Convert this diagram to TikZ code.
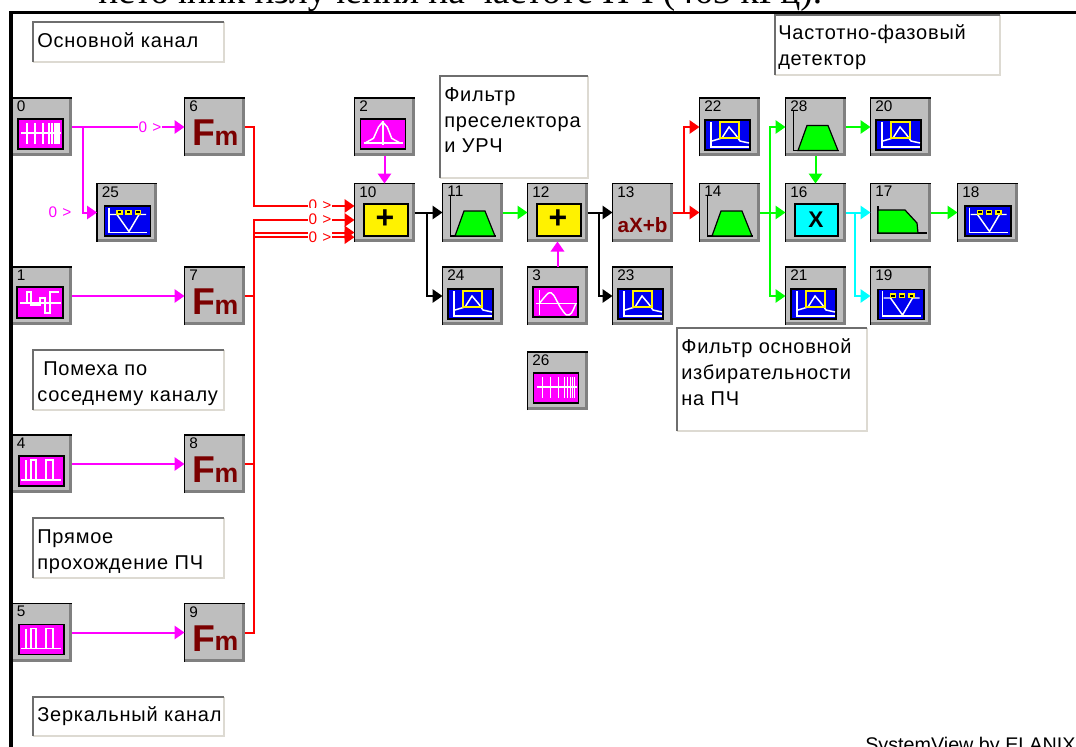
\documentclass[tikz,border=0pt]{standalone}
\usepackage{fontspec}
\setmainfont{Liberation Sans}
\newfontfamily\titlefont{Liberation Serif}
\newfontfamily\notefont[LetterSpace=4]{Liberation Sans}
\usetikzlibrary{arrows.meta}

\definecolor{blokgray}{HTML}{BEBEBE}
\definecolor{fmred}{HTML}{7B0000}
\definecolor{notedark}{HTML}{6E6E6E}
\definecolor{notelight}{HTML}{DDDAD2}
\definecolor{sigblue}{HTML}{0000F0}
\definecolor{sigmag}{HTML}{FF00FF}
\definecolor{sigcyan}{HTML}{00FFFF}
\definecolor{sigred}{HTML}{FF0000}
\definecolor{siggreen}{HTML}{00FF00}

\tikzset{
  blok/.style={rectangle, fill=blokgray, minimum width=45pt, minimum height=43.5pt, inner sep=0pt, outer sep=0pt},
  num/.style={font=\fontsize{11.5}{11.5}\selectfont, inner sep=0pt, anchor=north west},
  note/.style={font=\notefont\fontsize{15}{15}\selectfont, inner sep=0pt, anchor=base west},
  tag/.style={font=\fontsize{11.5}{11.5}\selectfont, inner sep=0.6pt, fill=white, text height=12pt, text depth=1pt},
  wire/.style={line width=1.5pt, -{Triangle[length=7.5pt,width=10pt]}},
  trace/.style={white, line width=1.1pt},
  frameicon/.style={draw=black, line width=1.2pt},
}

% block body with its number
\newcommand{\blok}[3]{
  \node[blok] (b#1) at (#2,#3) {};
  \draw[line width=2pt, gray] ([yshift=1pt]b#1.south west) -| ([xshift=-1pt]b#1.north east);
  \draw[line width=0.9pt, black] (b#1.south west) |- (b#1.north east);
  \node[num] (n#1) at ([xshift=3.5pt,yshift=-2pt]b#1.north west) {#1};
}
% note with sunken border
\newcommand{\notebox}[4]{
  \fill[white] (#1,#2) rectangle (#3,#4);
  \draw[line width=1pt, notelight] (#1,#4) -- (#3,#4) -- (#3,#2);
  \draw[line width=2pt, notedark] (#1,#4) -- (#1,#2) -- (#3,#2);
}
\newcommand{\iconpulses}{
  \draw[frameicon, fill=sigmag] (-24,-8) rectangle (21,22);
  \draw[trace] (-21,6) -- (19,6);
  \foreach \t in {-15,-7,1,7,10,13,15,17} \draw[trace] (\t,-4) -- (\t,17);
}
\newcommand{\iconsquare}{
  \draw[frameicon, fill=sigmag] (-25,-9) rectangle (21,22);
  \draw[trace] (-22,7) -- (-15,7) -- (-15,-4) -- (-11,-4) -- (-11,9) -- (-2,9) -- (-2,2) -- (3,2) -- (3,17) -- (8,17) -- (8,-4) -- (17,-4);
  \draw[trace] (-22,7) -- (19,7);
}
\newcommand{\iconrect}{
  \draw[frameicon, fill=sigmag] (-23,-8) rectangle (22,22);
  \draw[trace] (-21,16) -- (19,16);
  \draw[trace] (-16,-4) -- (-16,16);
  \draw[trace] (-11,16) -- (-11,-4) -- (-6,-4) -- (-6,16);
  \draw[trace] (4,16) -- (4,-4) -- (11,-4) -- (11,16);
}
\newcommand{\icongauss}{
  \draw[frameicon, fill=sigmag] (-24,-8) rectangle (21,22);
  \draw[trace] (-21,16) -- (18,16);
  \draw[trace] (-1.5,-6) -- (-1.5,18);
  \draw[trace] (-19.5,16) -- (-11,11.3) -- (-6,0) -- (-1.8,-5) -- (2.8,0) -- (7.2,11.3) -- (15.5,16);
}
\newcommand{\iconsine}{
  \draw[frameicon, fill=sigmag] (-24.5,-9) rectangle (20.5,21);
  \draw[trace] (-22,7.3) -- (19,7.3);
  \draw[trace] (-18,-6) -- (-18,19);
  \draw[trace] plot[smooth] coordinates {(-18,7.3) (-9,-3) (-4,-1) (2.5,10.7) (9,19) (14,17) (18.5,7.3)};
}
\newcommand{\iconspec}{
  \draw[frameicon, fill=sigblue] (-24.5,-7) rectangle (20.5,23);
  \draw[trace] (-18.5,-5) -- (-18.5,20) -- (19,20);
  \draw[trace] (-17.5,14) -- (-7.5,11) -- (-0.5,0) -- (5.5,7) -- (10.5,14) -- (19.5,16);
  \draw[yellow, line width=0.9pt] (-9.5,-5) rectangle (9.5,11);
}
\newcommand{\iconscope}{
  \draw[frameicon, fill=sigblue] (-22.5,-6.5) rectangle (23.5,23.5);
  \draw[trace] (-18,-5) -- (-18,20) -- (20,20);
  \draw[trace] (-17,2) -- (-10,2) -- (2,19) -- (12,2) -- (19,2);
  \foreach \t in {-7.5,1.5,11} \draw[yellow, fill=black, line width=0.8pt] (\t-2.5,-2) rectangle (\t+2.5,1.5);
}
\newcommand{\iconband}{
  \draw[line width=0.9pt] (-22,-16.5) -- (-22,23.5) -- (23,23.5);
  \draw[line width=0.9pt, fill=siggreen] (-17.5,23.5) -- (-8.5,-1.5) -- (12.5,-1.5) -- (22.5,23.5) -- cycle;
}

\begin{document}
\begin{tikzpicture}[x=0.75pt, y=-0.75pt]
\useasboundingbox (0,0) rectangle (1076,747);
\fill[white] (0,0) rectangle (1076,747);

% blocks by kind
\foreach \n/\x/\y in {0/42/127, 26/557.5/381} {\blok{\n}{\x}{\y} \begin{scope}[shift={(\x,\y)}] \iconpulses \end{scope}}
\foreach \n/\x/\y in {1/42/296} {\blok{\n}{\x}{\y} \begin{scope}[shift={(\x,\y)}] \iconsquare \end{scope}}
\foreach \n/\x/\y in {4/42/464, 5/42/632.5} {\blok{\n}{\x}{\y} \begin{scope}[shift={(\x,\y)}] \iconrect \end{scope}}
\foreach \n/\x/\y in {2/384.5/127} {\blok{\n}{\x}{\y} \begin{scope}[shift={(\x,\y)}] \icongauss \end{scope}}
\foreach \n/\x/\y in {3/557.5/296} {\blok{\n}{\x}{\y} \begin{scope}[shift={(\x,\y)}] \iconsine \end{scope}}
\foreach \n/\x/\y in {24/472.5/296, 23/642.5/296, 22/729.5/127, 21/815.5/296, 20/900.5/127} {\blok{\n}{\x}{\y} \begin{scope}[shift={(\x,\y)}] \iconspec \end{scope}}
\foreach \n/\x/\y in {25/127/212.5, 18/987.5/212.5, 19/900.5/296} {\blok{\n}{\x}{\y} \begin{scope}[shift={(\x,\y)}] \iconscope \end{scope}}
\foreach \n/\x/\y in {11/472.5/212.5, 14/729.5/212.5, 28/815.5/127} {\blok{\n}{\x}{\y} \begin{scope}[shift={(\x,\y)}] \iconband \end{scope}}

\foreach \n/\x/\y in {6/214.5/127, 7/214.5/296, 8/214.5/464, 9/214.5/632.5} {
  \blok{\n}{\x}{\y}
  \node[font=\fontsize{28}{28}\selectfont\bfseries, text=fmred, inner sep=0pt] (f\n) at (\x-11,\y+6) {F};
  \node[font=\fontsize{20}{20}\selectfont\bfseries, text=fmred, inner sep=0pt] (m\n) at (\x+12,\y+11) {m};
}
\foreach \n/\x/\y in {10/384.5/212.5, 12/557.5/212.5} {
  \blok{\n}{\x}{\y}
  \draw[frameicon, fill=yellow] (\x-20.5,\y-8.5) rectangle (\x+23.5,\y+23.5);
  \node[font=\fontsize{24}{24}\selectfont\bfseries, inner sep=0pt] (p\n) at (\x+0.5,\y+7) {+};
}
\blok{16}{815.5}{212.5}
\draw[frameicon, fill=sigcyan] (795,204) rectangle (838,236);
\node[font=\fontsize{17}{17}\selectfont\bfseries, inner sep=0pt] (x16) at (816,220) {X};
\blok{13}{642.5}{212.5}
\node[font=\fontsize{15.5}{15.5}\selectfont\bfseries, text=fmred, inner sep=0pt] (a13) at (642.5,225) {aX+b};
\blok{17}{900.5}{212.5}
\draw[line width=0.9pt] (878,206) -- (878,233) -- (927,233);
\draw[line width=0.9pt, fill=siggreen] (878,210) -- (905,210) -- (917,223) -- (918,233) -- (878,233) -- cycle;

% notes
\notebox{33}{22}{224}{62}
\node[note] (t1) at (37,47) {Основной канал};
\notebox{33}{350}{224}{410}
\node[note] (t2) at (43,375) {Помеха по};
\node[note] (t3) at (37,401) {соседнему каналу};
\notebox{33}{518}{224}{578}
\node[note] (t4) at (37,543) {Прямое};
\node[note] (t5) at (37,569) {прохождение ПЧ};
\notebox{33}{697}{224}{736}
\node[note] (t6) at (37,721) {Зеркальный канал};
\notebox{440}{76}{588}{178}
\node[note] (t7) at (444,101) {Фильтр};
\node[note] (t8) at (444,127) {преселектора};
\node[note] (t9) at (444,152) {и УРЧ};
\notebox{677}{328}{867}{431}
\node[note] (t10) at (681,353) {Фильтр основной};
\node[note] (t11) at (681,379) {избирательности};
\node[note] (t12) at (681,405) {на ПЧ};
\notebox{775}{15}{1000}{75}
\node[note] (t13) at (778,39) {Частотно-фазовый};
\node[note] (t14) at (778,65) {детектор};

% branch points
\coordinate (j0) at (83,127);
\coordinate (j10) at (427,212.5);
\coordinate (j12) at (599,212.5);
\coordinate (j13) at (684,212.5);
\coordinate (j14) at (770,212.5);
\coordinate (j16) at (855,212.5);

% magenta links
\draw[wire, sigmag] (b0.east) -- (b6.west);
\draw[wire, sigmag] (j0) |- (b25.west);
\draw[wire, sigmag] (b1.east) -- (b7.west);
\draw[wire, sigmag] (b4.east) -- (b8.west);
\draw[wire, sigmag] (b5.east) -- (b9.west);
\draw[wire, sigmag] (b2.south) -- (b10.north);
\draw[wire, sigmag] (b3.north) -- (b12.south);
\node[tag, text=sigmag] (l0) at (150,125) {0\,\,>};
\node[tag, text=sigmag, fill=none] (l25) at (60,210) {0\,\,>};

% red bus into the adder
\draw[wire, sigred] (b6.east) -- ++(9,0) |- ([yshift=4.9pt]b10.west);
\draw[wire, sigred] (b7.east) -- ++(9,0) |- ([yshift=-5.6pt]b10.west);
\draw[wire, sigred] (b8.east) -- ++(9,0) |- ([yshift=-15pt]b10.west);
\draw[wire, sigred] (b9.east) -- ++(9,0) |- ([yshift=-18.5pt]b10.west);
\node[tag, text=sigred] (l6) at (320,203.6) {0\,\,>};
\node[tag, text=sigred] (l7) at (320,217.6) {0\,\,>};
\node[tag, text=sigred] (l8) at (320,235) {0\,\,>};

% the rest of the chain
\draw[wire, black] (b10.east) -- (b11.west);
\draw[wire, black] (j10) |- (b24.west);
\draw[wire, siggreen] (b11.east) -- (b12.west);
\draw[wire, black] (b12.east) -- (b13.west);
\draw[wire, black] (j12) |- (b23.west);
\draw[wire, sigred] (b13.east) -- (b14.west);
\draw[wire, sigred] (j13) |- (b22.west);
\draw[wire, siggreen] (b14.east) -- (b16.west);
\draw[wire, siggreen] (j14) |- (b28.west);
\draw[wire, siggreen] (j14) |- (b21.west);
\draw[wire, siggreen] (b28.east) -- (b20.west);
\draw[wire, siggreen] (b28.south) -- (b16.north);
\draw[wire, sigcyan] (b16.east) -- (b17.west);
\draw[wire, sigcyan] (j16) |- (b19.west);
\draw[wire, siggreen] (b17.east) -- (b18.west);

% sheet edge and the text around it
\draw[line width=2.6pt] (11,747) -- (11,12.7) -- (1076,12.7);
\node[font=\titlefont\fontsize{28}{28}\selectfont, inner sep=0pt, anchor=base west] (head) at (98,3.5) {источник излучения на частоте ПЧ (465 кГц).};
\node[font=\fontsize{14.8}{14.8}\selectfont, inner sep=0pt, anchor=base west] (foot) at (865,751) {SystemView by ELANIX};
\end{tikzpicture}
\end{document}
